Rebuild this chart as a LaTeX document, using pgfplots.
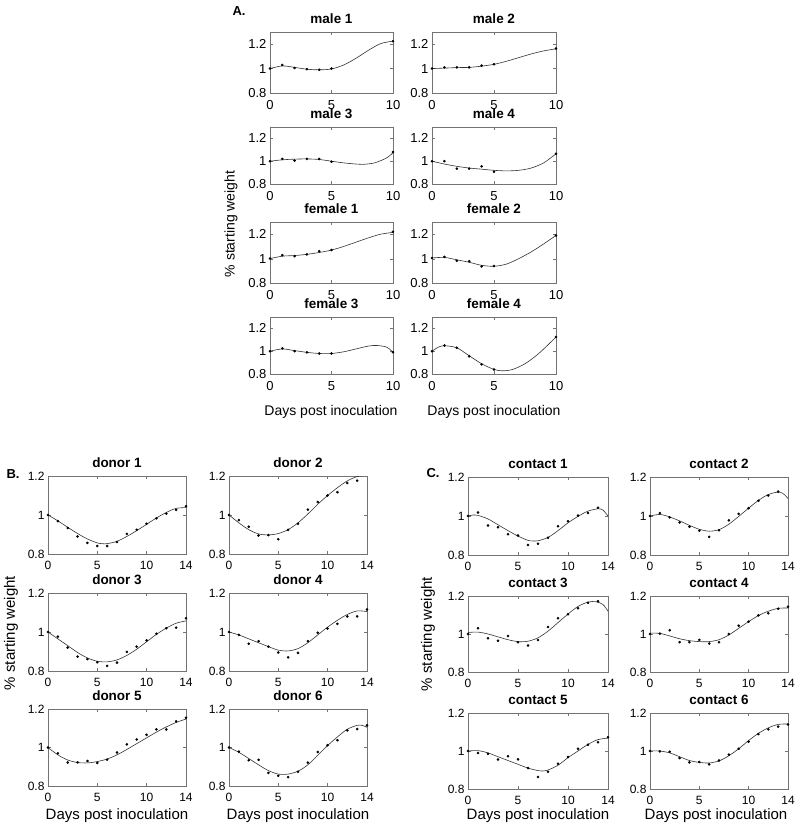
\documentclass[border=0pt]{standalone}
\usepackage{fontspec}
\setmainfont{Liberation Sans}
\usepackage{pgfplots}
\pgfplotsset{compat=1.18}

\pgfplotsset{
  sub/.style={scale only axis, anchor=north west,
    xmin=0, ymin=0.8, ymax=1.2, ytick={0.8,1,1.2},
    /pgf/number format/assume math mode=true,
    axis line style={black!55}, tick style={black!55},
    major tick length=3pt,
    tick label style={font=\fontsize{12}{12}\selectfont},
    xticklabel style={yshift=-4pt},
    title style={font=\bfseries\fontsize{13.5}{14}\selectfont, yshift=-1pt}},
  subA/.style={sub, xmax=10, xtick={0,5,10}, ymax=1.3,
    tick label style={font=\fontsize{13}{13}\selectfont}},
  subB/.style={sub, xmax=14, xtick={0,5,10,14}},
  pos/.style 2 args={at={(#1pt,-#2pt)}},
  sz/.style 2 args={width=#1pt, height=#2pt},
  fit/.style={no marks, smooth, black!80, line width=0.6pt},
  pts/.style={only marks, mark=*, mark size=1.1pt, black},
}

\begin{document}
\begin{tikzpicture}
\useasboundingbox (0,0) rectangle (800pt,-832pt);

% ---------------- A ----------------
\begin{axis}[subA, pos={270}{32}, sz={123}{61}, title={male 1}]
\addplot[fit] coordinates {(0,1.0)(1,1.022)(2,1.01)(3,0.995)(4,0.99)(5,0.997)(6,1.03)(7,1.085)(8,1.15)(9,1.205)(10,1.225)};
\addplot[pts] coordinates {(0,1.0)(1,1.03)(2,1.005)(3,0.995)(4,0.99)(5,1.0)(10,1.225)};
\end{axis}
\begin{axis}[subA, pos={432}{32}, sz={124}{61}, title={male 2}]
\addplot[fit] coordinates {(0,1.0)(2,1.008)(3,1.01)(4,1.02)(5,1.035)(6,1.06)(7,1.09)(8,1.12)(9,1.145)(10,1.162)};
\addplot[pts] coordinates {(0,1.0)(1,1.01)(2,1.01)(3,1.01)(4,1.025)(5,1.035)(10,1.165)};
\end{axis}
\begin{axis}[subA, pos={270}{127}, sz={123}{57}, title={male 3}]
\addplot[fit] coordinates {(0,1.0)(1,1.012)(2,1.018)(3,1.02)(4,1.015)(5,1.0)(6,0.985)(7,0.975)(7.5,0.972)(8.5,0.985)(9.5,1.03)(10,1.075)};
\addplot[pts] coordinates {(0,1.0)(1,1.02)(2,1.006)(3,1.02)(4,1.02)(5,0.995)(10,1.08)};
\end{axis}
\begin{axis}[subA, pos={432}{127}, sz={124}{57}, title={male 4}]
\addplot[fit] coordinates {(0,1.0)(1,0.975)(2,0.955)(3,0.94)(4,0.93)(5,0.92)(6,0.915)(7,0.92)(8,0.94)(9,0.985)(10,1.065)};
\addplot[pts] coordinates {(0,1.0)(1,1.0)(2,0.935)(3,0.935)(4,0.955)(5,0.907)(10,1.065)};
\end{axis}
\begin{axis}[subA, pos={270}{222}, sz={123}{61}, title={female 1}]
\addplot[fit] coordinates {(0,1.0)(1,1.02)(2,1.025)(3,1.035)(4,1.05)(5,1.07)(6,1.1)(7,1.135)(8,1.17)(9,1.2)(10,1.215)};
\addplot[pts] coordinates {(0,1.0)(1,1.028)(2,1.02)(3,1.034)(4,1.06)(5,1.07)(10,1.22)};
\end{axis}
\begin{axis}[subA, pos={432}{222}, sz={124}{61}, title={female 2}]
\addplot[fit] coordinates {(0,1.005)(1,1.01)(2,0.99)(3,0.97)(4,0.945)(5,0.937)(6,0.955)(7,1.0)(8,1.055)(9,1.12)(10,1.19)};
\addplot[pts] coordinates {(0,1.005)(1,1.014)(2,0.983)(3,0.978)(4,0.936)(5,0.94)(10,1.19)};
\end{axis}
\begin{axis}[subA, pos={270}{317}, sz={123}{57}, title={female 3}]
\addplot[fit] coordinates {(0,1.0)(1,1.02)(2,1.005)(3,0.99)(4,0.98)(5,0.98)(6,0.995)(7,1.02)(8,1.045)(8.7,1.05)(9.5,1.035)(10,0.99)};
\addplot[pts] coordinates {(0,1.0)(1,1.025)(2,1.0)(3,0.99)(4,0.98)(5,0.98)(10,0.99)};
\end{axis}
\begin{axis}[subA, pos={432}{317}, sz={124}{57}, title={female 4}]
\addplot[fit] coordinates {(0,1.0)(0.5,1.035)(1,1.048)(2,1.03)(3,0.96)(4,0.89)(5,0.84)(5.7,0.828)(6.5,0.84)(7.5,0.89)(8.5,0.97)(9.3,1.05)(10,1.125)};
\addplot[pts] coordinates {(0,1.0)(1,1.05)(2,1.03)(3,0.955)(4,0.885)(5,0.84)(10,1.125)};
\end{axis}

\node[font=\bfseries\fontsize{13}{13}\selectfont] at (239pt,-11pt) {A.};
\node[rotate=90, font=\fontsize{14}{14}\selectfont] at (231pt,-224pt) {\% starting weight};
\node[font=\fontsize{14}{14}\selectfont] at (331pt,-412pt) {Days post inoculation};
\node[font=\fontsize{14}{14}\selectfont] at (494pt,-412pt) {Days post inoculation};

% ---------------- B ----------------
\begin{axis}[subB, pos={48}{476}, sz={138}{78}, title={donor 1}]
\addplot[fit] coordinates {(0,1.0)(1,0.97)(2,0.937)(3,0.905)(4,0.877)(5,0.857)(5.5,0.853)(6,0.853)(7,0.865)(8,0.89)(9,0.92)(10,0.952)(11,0.985)(12,1.013)(13,1.034)(14,1.038)};
\addplot[pts] coordinates {(0,1.0)(1,0.969)(2,0.933)(3,0.89)(4,0.857)(5,0.841)(6,0.841)(7,0.862)(8,0.903)(9,0.924)(10,0.955)(11,0.983)(12,1.007)(13,1.026)(14,1.045)};
\end{axis}
\begin{axis}[subB, pos={229}{476}, sz={138}{78}, title={donor 2}]
\addplot[fit] coordinates {(0,1.0)(1,0.96)(2,0.925)(3,0.903)(4,0.898)(5,0.905)(6,0.925)(7,0.96)(8,1.005)(9,1.055)(10,1.1)(11,1.14)(12,1.175)(13,1.197)(14,1.205)};
\addplot[pts] coordinates {(0,1.0)(1,0.974)(2,0.94)(3,0.895)(4,0.897)(5,0.876)(6,0.924)(7,0.955)(8,1.028)(9,1.067)(10,1.1)(11,1.117)(12,1.164)(13,1.176)};
\end{axis}
\begin{axis}[subB, pos={48}{593}, sz={138}{78}, title={donor 3}]
\addplot[fit] coordinates {(0,1.0)(1,0.965)(2,0.93)(3,0.895)(4,0.867)(5,0.85)(6,0.847)(7,0.857)(8,0.88)(9,0.912)(10,0.95)(11,0.988)(12,1.02)(13,1.045)(14,1.057)};
\addplot[pts] coordinates {(0,1.0)(1,0.976)(2,0.92)(3,0.874)(4,0.861)(5,0.845)(6,0.826)(7,0.843)(8,0.898)(9,0.925)(10,0.957)(11,0.991)(12,1.019)(13,1.022)(14,1.07)};
\end{axis}
\begin{axis}[subB, pos={229}{593}, sz={138}{78}, title={donor 4}]
\addplot[fit] coordinates {(0,1.0)(1,0.985)(2,0.965)(3,0.945)(4,0.925)(5,0.907)(6,0.903)(7,0.915)(8,0.945)(9,0.985)(10,1.025)(11,1.06)(12,1.09)(13,1.108)(14,1.105)};
\addplot[pts] coordinates {(0,1.0)(1,0.985)(2,0.94)(3,0.953)(4,0.925)(5,0.895)(6,0.87)(7,0.893)(8,0.953)(9,0.996)(10,1.018)(11,1.042)(12,1.08)(13,1.08)(14,1.115)};
\end{axis}
\begin{axis}[subB, pos={48}{709}, sz={138}{77}, title={donor 5}]
\addplot[fit] coordinates {(0,1.0)(1,0.962)(2,0.935)(3,0.922)(4,0.92)(5,0.927)(6,0.94)(7,0.962)(8,0.99)(9,1.02)(10,1.05)(11,1.08)(12,1.107)(13,1.13)(14,1.148)};
\addplot[pts] coordinates {(0,1.0)(1,0.97)(2,0.922)(3,0.923)(4,0.93)(5,0.92)(6,0.937)(7,0.974)(8,1.016)(9,1.042)(10,1.066)(11,1.094)(12,1.094)(13,1.136)(14,1.155)};
\end{axis}
\begin{axis}[subB, pos={229}{709}, sz={138}{77}, title={donor 6}]
\addplot[fit] coordinates {(0,1.0)(1,0.975)(2,0.943)(3,0.91)(4,0.88)(5,0.862)(6,0.862)(7,0.877)(8,0.91)(9,0.96)(10,1.01)(11,1.055)(12,1.095)(13,1.115)(13.5,1.115)(14,1.105)};
\addplot[pts] coordinates {(0,1.0)(1,0.979)(2,0.934)(3,0.936)(4,0.868)(5,0.853)(6,0.846)(7,0.874)(8,0.922)(9,0.977)(10,1.012)(11,1.038)(12,1.089)(13,1.096)(14,1.115)};
\end{axis}

\node[font=\bfseries\fontsize{13}{13}\selectfont] at (13pt,-474pt) {B.};
\node[rotate=90, font=\fontsize{15}{15}\selectfont] at (11pt,-633pt) {\% starting weight};
\node[font=\fontsize{15}{15}\selectfont] at (117pt,-816pt) {Days post inoculation};
\node[font=\fontsize{15}{15}\selectfont] at (298pt,-816pt) {Days post inoculation};

% ---------------- C ----------------
\begin{axis}[subB, pos={468}{477}, sz={140}{78}, title={contact 1}]
\addplot[fit] coordinates {(0,1.0)(0.5,1.005)(1,1.003)(2,0.985)(3,0.955)(4,0.925)(5,0.897)(6,0.875)(6.5,0.872)(7,0.873)(8,0.89)(9,0.925)(10,0.965)(11,0.998)(12,1.025)(13,1.037)(13.5,1.03)(14,1.0)};
\addplot[pts] coordinates {(0,1.0)(1,1.018)(2,0.951)(3,0.942)(4,0.907)(5,0.9)(6,0.851)(7,0.858)(8,0.889)(9,0.947)(10,0.973)(11,1.002)(12,1.015)(13,1.042)};
\end{axis}
\begin{axis}[subB, pos={650}{477}, sz={138}{78}, title={contact 2}]
\addplot[fit] coordinates {(0,1.0)(1,1.008)(2,0.995)(3,0.975)(4,0.952)(5,0.932)(6,0.922)(7,0.93)(8,0.958)(9,0.998)(10,1.04)(11,1.08)(12,1.11)(13,1.123)(13.5,1.115)(14,1.09)};
\addplot[pts] coordinates {(0,1.0)(1,1.015)(2,0.993)(3,0.967)(4,0.945)(5,0.925)(6,0.893)(7,0.927)(8,0.978)(9,1.011)(10,1.04)(11,1.078)(12,1.105)(13,1.125)};
\end{axis}
\begin{axis}[subB, pos={468}{596}, sz={140}{76}, title={contact 3}]
\addplot[fit] coordinates {(0,1.008)(1,1.01)(2,1.0)(3,0.985)(4,0.97)(5,0.96)(6,0.962)(7,0.98)(8,1.015)(9,1.06)(10,1.105)(11,1.145)(12,1.168)(12.8,1.17)(13.5,1.155)(14,1.12)};
\addplot[pts] coordinates {(0,1.0)(1,1.03)(2,0.978)(3,0.965)(4,0.989)(5,0.957)(6,0.939)(7,0.969)(8,1.037)(9,1.083)(10,1.104)(11,1.135)(12,1.165)(13,1.172)};
\end{axis}
\begin{axis}[subB, pos={650}{596}, sz={138}{76}, title={contact 4}]
\addplot[fit] coordinates {(0,1.005)(1,1.003)(2,0.99)(3,0.975)(4,0.965)(5,0.96)(6,0.96)(7,0.97)(8,0.995)(9,1.03)(10,1.065)(11,1.097)(12,1.12)(13,1.135)(14,1.137)};
\addplot[pts] coordinates {(0,1.0)(1,1.002)(2,1.02)(3,0.957)(4,0.957)(5,0.969)(6,0.95)(7,0.957)(8,1.0)(9,1.044)(10,1.065)(11,1.098)(12,1.109)(13,1.133)(14,1.143)};
\end{axis}
\begin{axis}[subB, pos={468}{713}, sz={140}{76}, title={contact 5}]
\addplot[fit] coordinates {(0,1.0)(1,1.002)(2,0.99)(3,0.97)(4,0.95)(5,0.93)(6,0.91)(7,0.897)(7.5,0.895)(8,0.9)(9,0.925)(10,0.965)(11,1.0)(12,1.035)(13,1.06)(14,1.068)};
\addplot[pts] coordinates {(0,1.0)(1,0.99)(2,0.986)(3,0.955)(4,0.972)(5,0.956)(6,0.91)(7,0.863)(8,0.891)(9,0.933)(10,0.968)(11,1.012)(12,1.033)(13,1.046)(14,1.072)};
\end{axis}
\begin{axis}[subB, pos={650}{713}, sz={138}{76}, title={contact 6}]
\addplot[fit] coordinates {(0,1.0)(1,1.0)(2,0.99)(3,0.97)(4,0.95)(5,0.94)(6,0.937)(7,0.948)(8,0.975)(9,1.012)(10,1.055)(11,1.093)(12,1.122)(13,1.14)(14,1.142)};
\addplot[pts] coordinates {(0,1.0)(1,0.998)(2,0.996)(3,0.963)(4,0.94)(5,0.942)(6,0.93)(7,0.95)(8,0.981)(9,1.012)(10,1.049)(11,1.089)(12,1.114)(13,1.128)(14,1.14)};
\end{axis}

\node[font=\bfseries\fontsize{13}{13}\selectfont] at (433pt,-473pt) {C.};
\node[rotate=90, font=\fontsize{15}{15}\selectfont] at (428pt,-634pt) {\% starting weight};
\node[font=\fontsize{15}{15}\selectfont] at (538pt,-816pt) {Days post inoculation};
\node[font=\fontsize{15}{15}\selectfont] at (716pt,-816pt) {Days post inoculation};
\end{tikzpicture}
\end{document}
